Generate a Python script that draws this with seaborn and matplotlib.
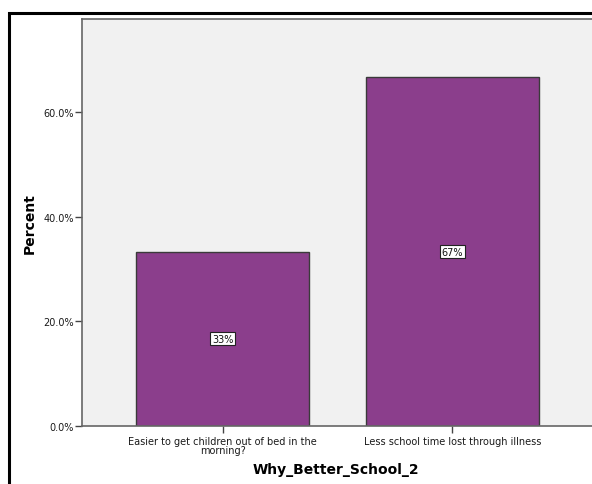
import matplotlib
matplotlib.use("Agg")
import matplotlib.pyplot as plt
import seaborn as sns
import pandas as pd
from matplotlib.patches import Rectangle

categories = ["Easier to get children out of bed in the\nmorning?",
              "Less school time lost through illness"]
percents = [33.33, 66.67]
bar_labels = ["33%", "67%"]
y_ticks = [0, 20, 40, 60]
y_tick_labels = ["0.0%", "20.0%", "40.0%", "60.0%"]

df = pd.DataFrame({"cat": categories, "pct": percents})

sns.set_theme(style="white")
plt.rcParams['font.family'] = ['DejaVu Sans']

fig = plt.figure(figsize=(5.92, 4.85), dpi=100)
ax = fig.add_axes([82/592, 1-427/485, (593-82)/592, (427-20)/485])
sns.barplot(data=df, x="cat", y="pct", ax=ax, color="#8B3E8C", saturation=1,
            width=0.752, edgecolor="#3a3a3a", linewidth=1.0)
ax.set_facecolor("#F1F1F1")
ax.set_xlim(-0.611, 1.611)
ax.set_ylim(0, 77.8)
ax.set_yticks(y_ticks)
ax.set_yticklabels(y_tick_labels, fontsize=7, color="#1a1a1a")
ax.tick_params(axis="y", length=5, width=1, color="#444444", pad=1, left=True)
ax.tick_params(axis="x", length=5, width=1, color="#444444", pad=2, bottom=True, labelsize=7, labelcolor="#1a1a1a")
for lbl in ax.get_xticklabels():
    lbl.set_linespacing(0.85)
for s in ["left", "bottom", "top"]:
    ax.spines[s].set_color("#666666")
    ax.spines[s].set_linewidth(1.2)
ax.spines["right"].set_visible(False)
ax.set_ylabel("Percent", fontsize=10, fontweight="bold", color="black")
ax.set_xlabel("Why_Better_School_2", fontsize=10, fontweight="bold", color="black")
ax.yaxis.set_label_coords((30-82)/511, 0.5)
ax.xaxis.set_label_coords((336-82)/511, (427-470)/407)
ax.xaxis.label.set_va("center")
ax.yaxis.label.set_va("center")

for i, (p, t) in enumerate(zip(percents, bar_labels)):
    ax.text(i, p/2, t, ha="center", va="center", fontsize=7, color="#111111",
            bbox=dict(boxstyle="square,pad=0.15", facecolor="white", edgecolor="#222222", linewidth=0.8))

# outer frame
fig.patches.append(Rectangle((9/592, -0.1), 1.2, 1-14/485+0.1, transform=fig.transFigure,
                             fill=False, edgecolor="black", linewidth=2.2, clip_on=False))

fig.savefig("out.png", dpi=100)
